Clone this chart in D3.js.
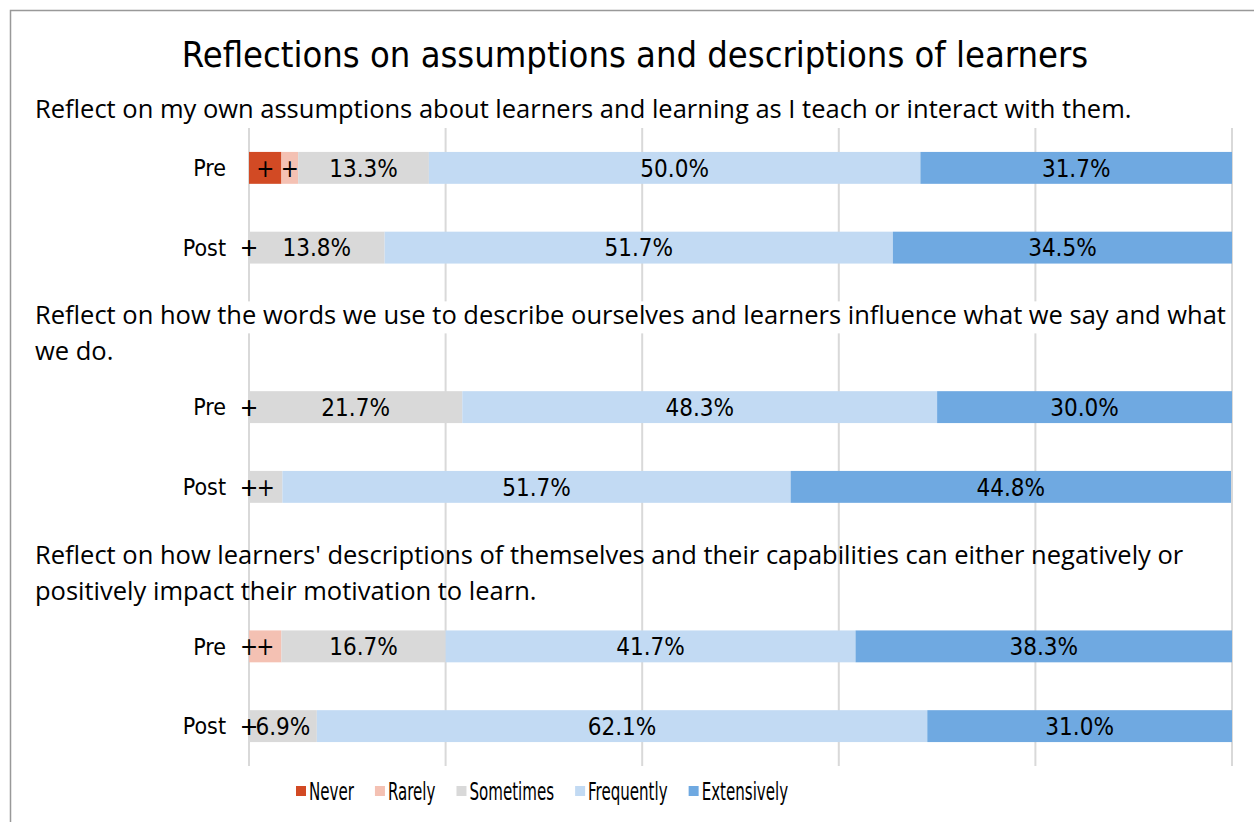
<!DOCTYPE html>
<html>
<head>
<meta charset="utf-8">
<script src="https://cdn.jsdelivr.net/npm/d3@7"></script>
<style>
	body{margin:0;background:#fff;}
	svg text{fill:#000;}
	.lbl{font-family:"DejaVu Sans Condensed","DejaVu Sans",sans-serif;font-stretch:condensed;}
	.q{font-family:"Open Sans",sans-serif;}
</style>
</head>
<body>
<div id="chart"></div>
<script>
const title = 'Reflections on assumptions and descriptions of learners';
const questions = [
	['Reflect on my own assumptions about learners and learning as I teach or interact with them.'],
	['Reflect on how the words we use to describe ourselves and learners influence what we say and what', 'we do.'],
	["Reflect on how learners' descriptions of themselves and their capabilities can either negatively or", 'positively impact their motivation to learn.']
];
const phases = ['Pre','Post'];
const levels = ['Never','Rarely','Sometimes','Frequently','Extensively'];
const colors = ['#d24a24','#f4c1b3','#d9d9d9','#c2daf3','#6fa9e1'];

//percent of answers, in order Q1 Pre, Q1 Post, Q2 Pre, Q2 Post, Q3 Pre, Q3 Post
const never       = [3.3, 0, 0, 0, 0, 0];
const rarely      = [1.7, 0, 0, 0, 3.3, 0];
const sometimes   = [13.3, 13.8, 21.7, 3.4, 16.7, 6.9];
const frequently  = [50.0, 51.7, 48.3, 51.7, 41.7, 62.1];
const extensively = [31.7, 34.5, 30.0, 44.8, 38.3, 31.0];
const xTicks = [0, 20, 40, 60, 80, 100];

const width = 1254, height = 822;
const margin = {t:128, r:22, b:56, l:249};
const frame = {x:10, y:10, w:1250};

const svg = d3.select('#chart').append('svg')
	.attr('width', width)
	.attr('height', height);

//outer frame of the chart
svg.append('rect')
	.attr('x', frame.x + .5).attr('y', frame.y + .5)
	.attr('width', frame.w).attr('height', height)
	.style('fill','#fff')
	.style('stroke','#999')
	.style('stroke-width',1.5);

//rows: one per Pre/Post bar, plus a blank slot that holds each later question
const rows = [];
questions.forEach((q,qi) => {
	if(qi > 0) rows.push({key:'h'+qi, q:qi, header:true});
	phases.forEach(p => rows.push({key:'q'+qi+'-'+p, q:qi, phase:p}));
});
const bars = rows.filter(r => !r.header);
bars.forEach((r,i) => {
	r.values = [never[i], rarely[i], sometimes[i], frequently[i], extensively[i]];
});

const scaleX = d3.scaleLinear().domain([0,100]).range([margin.l, width - margin.r]);
const scaleY = d3.scaleBand()
	.domain(rows.map(r => r.key))
	.range([margin.t, height - margin.b])
	.paddingInner(.6)
	.paddingOuter(.3);

//gridlines
svg.append('g')
	.selectAll('line')
	.data(xTicks)
	.enter().append('line')
	.attr('x1', d => scaleX(d)).attr('x2', d => scaleX(d))
	.attr('y1', margin.t).attr('y2', height - margin.b)
	.style('stroke','#d9d9d9')
	.style('stroke-width',2);

//title
svg.append('text')
	.attr('class','lbl')
	.attr('x', frame.x + frame.w/2)
	.attr('y', 67)
	.attr('text-anchor','middle')
	.style('font-size','36px')
	.text(title);

//question texts
const qBase = qi => qi === 0 ? margin.t - 10 : scaleY('h'+qi) + scaleY.bandwidth()/2 - 3;
const qG = svg.append('g').attr('class','q').style('font-size','25.5px');
questions.forEach((lines,qi) => {
	lines.forEach((line,li) => {
		const t = qG.append('text')
			.attr('x', 35)
			.attr('y', qBase(qi) + li*36)
			.text(line);
		if(qi === 1 && li === 0){
			//this one sits in a white box over the gridlines
			const bb = t.node().getBBox();
			qG.insert('rect','text:last-child')
				.attr('x', bb.x).attr('y', bb.y + 4)
				.attr('width', bb.width + 4).attr('height', bb.height - 2)
				.style('fill','#fff');
		}
	});
});

//stacked segments
const segs = [];
bars.forEach(r => {
	let x0 = 0;
	r.values.forEach((v,k) => {
		segs.push({row:r.key, k:k, v:v, x0:x0, x1:x0+v});
		x0 += v;
	});
});

const plot = svg.append('g');
plot.selectAll('.seg')
	.data(segs.filter(d => d.v > 0))
	.enter().append('rect')
	.attr('class','seg')
	.attr('x', d => scaleX(d.x0))
	.attr('width', d => scaleX(d.x1) - scaleX(d.x0))
	.attr('y', d => scaleY(d.row))
	.attr('height', scaleY.bandwidth())
	.style('fill', d => colors[d.k]);

//data labels: small shares are marked with "+"
const fmt = d3.format('.1f');
plot.selectAll('.val')
	.data(segs.filter(d => d.k < 3 || d.v > 0))
	.enter().append('text')
	.attr('class','val lbl')
	.attr('x', d => scaleX((d.x0 + d.x1)/2))
	.attr('y', d => scaleY(d.row) + scaleY.bandwidth()/2)
	.attr('dy','.36em')
	.attr('text-anchor','middle')
	.style('font-size','24px')
	.text(d => d.v >= 5 ? fmt(d.v) + '%' : '+');

//Pre / Post labels
svg.append('g')
	.selectAll('text')
	.data(bars)
	.enter().append('text')
	.attr('class','lbl')
	.attr('x', scaleX(0) - 23)
	.attr('y', d => scaleY(d.key) + scaleY.bandwidth()/2)
	.attr('dy','.36em')
	.attr('text-anchor','end')
	.style('font-size','23px')
	.text(d => d.phase);

//legend (the original squeezes its text a lot)
const legend = svg.append('g')
	.attr('class','lbl')
	.attr('transform','translate(296,784)');
let lx = 0;
levels.forEach((name,k) => {
	const item = legend.append('g').attr('transform',`translate(${lx},0)`);
	item.append('rect')
		.attr('width',10).attr('height',10)
		.attr('y',2)
		.style('fill', colors[k]);
	const t = item.append('text')
		.attr('x',13).attr('y',16)
		.style('font-size','25px')
		.text(name);
	const len = t.node().getComputedTextLength() * .67;
	t.attr('textLength', len).attr('lengthAdjust','spacingAndGlyphs');
	lx += 13 + len + 21;
});
</script>
</body>
</html>
